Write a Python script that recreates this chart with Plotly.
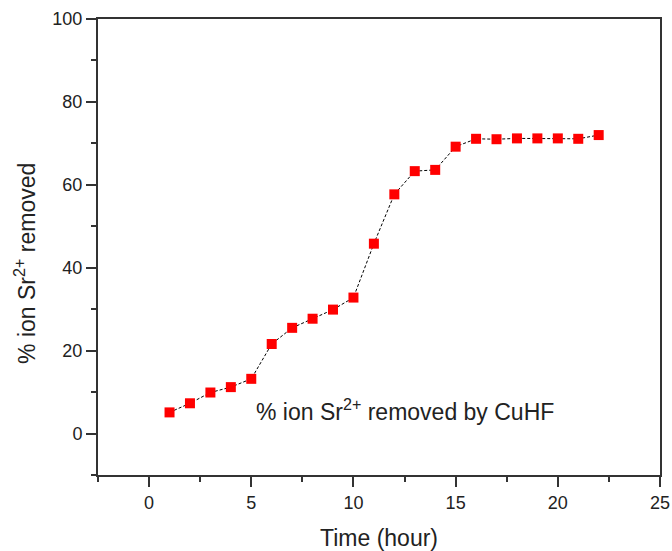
import plotly.graph_objects as go

time_h = [1, 2, 3, 4, 5, 6, 7, 8, 9, 10, 11, 12, 13, 14, 15, 16, 17, 18, 19, 20, 21, 22]
removed = [5.1, 7.3, 9.9, 11.2, 13.2, 21.6, 25.5, 27.7, 29.9, 32.8, 45.8, 57.7,
           63.3, 63.6, 69.2, 71.1, 71.0, 71.2, 71.2, 71.2, 71.1, 72.0]
x_ticks = [0, 5, 10, 15, 20, 25]
y_ticks = [0, 20, 40, 60, 80, 100]

font = "Arial, Liberation Sans, sans-serif"
ink = "#222"

fig = go.Figure()
fig.add_trace(go.Scatter(
    x=time_h, y=removed, mode="lines+markers",
    line=dict(color="black", width=1, dash="3px,2px"),
    marker=dict(symbol="square", size=10, color="#ff0000"),
    showlegend=False,
))

fig.add_annotation(
    x=5.15, y=5.6, xref="x", yref="y", xanchor="left", yanchor="middle",
    text="% ion Sr<sup>2+</sup> removed by CuHF", showarrow=False,
    font=dict(family=font, size=23, color=ink),
)

# y-axis title placed as annotation (reference sits slightly below centre)
fig.add_annotation(
    x=-0.13, y=0.465, xref="paper", yref="paper", xanchor="center", yanchor="middle",
    text="% ion Sr<sup>2+</sup> removed", showarrow=False, textangle=-90,
    font=dict(family=font, size=23, color=ink),
)

axis_common = dict(
    showgrid=False, zeroline=False, showline=True, linecolor="#333", linewidth=2,
    mirror=True, ticks="outside", ticklen=10, tickwidth=2, tickcolor="#333",
    tickfont=dict(family=font, size=18, color=ink), automargin=False,
)

fig.update_xaxes(
    range=[-2.5, 25], tickvals=x_ticks,
    minor=dict(ticks="outside", ticklen=5, tickwidth=2, tickcolor="#333", dtick=2.5, tick0=0),
    title=dict(text="Time (hour)", font=dict(family=font, size=23, color=ink), standoff=20),
    **axis_common,
)
fig.update_yaxes(
    range=[-10, 100], tickvals=y_ticks,
    minor=dict(ticks="outside", ticklen=5, tickwidth=2, tickcolor="#333", dtick=10, tick0=0),
    **axis_common,
)

fig.update_layout(
    width=672, height=551,
    margin=dict(l=98, r=12, t=19, b=76),
    paper_bgcolor="white", plot_bgcolor="white",
)

fig.write_html("out.html")
